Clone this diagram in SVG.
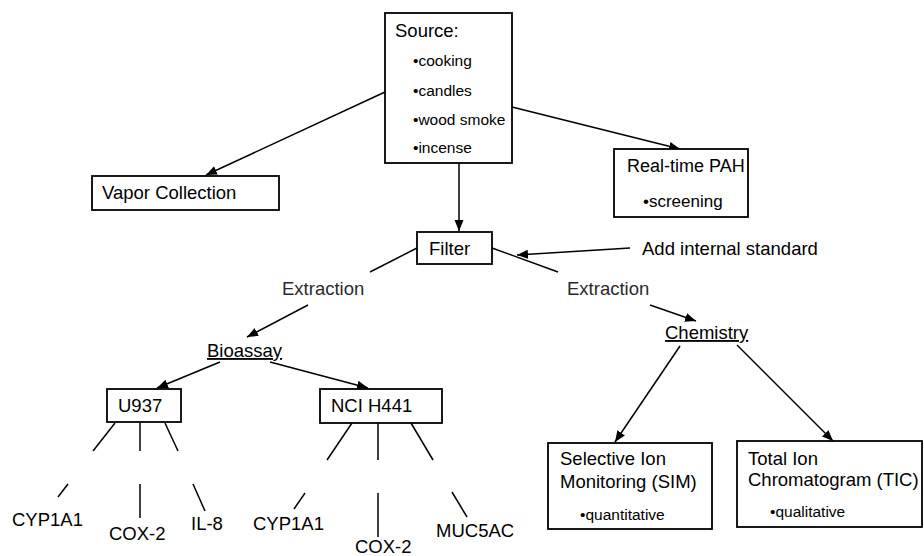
<svg xmlns="http://www.w3.org/2000/svg" width="924" height="556" viewBox="0 0 924 556">
<style>
text{font-family:"Liberation Sans",Arial,sans-serif;fill:#000}
.t{font-size:18.5px}
.s{font-size:15.5px}
.g{font-size:18.5px;fill:#2a2a2a}
.box{fill:#fff;stroke:#000;stroke-width:1.8}
.ln{stroke:#000;stroke-width:1.5;fill:none}
.ar{stroke:#000;stroke-width:1.5;fill:none;marker-end:url(#ah)}
</style>
<defs>
<marker id="ah" markerUnits="userSpaceOnUse" markerWidth="12" markerHeight="10" refX="11" refY="4.5" orient="auto">
<path d="M0,0 L11,4.5 L0,9 Z" fill="#000"/>
</marker>
</defs>
<rect width="924" height="556" fill="#fff"/>
<g id="connectors">
<line class="ar" x1="385" y1="92" x2="206" y2="175"/>
<line class="ar" x1="512" y1="107" x2="680" y2="149"/>
<line class="ar" x1="459" y1="163" x2="459" y2="231"/>
<line class="ar" x1="630" y1="248" x2="517" y2="255"/>
<line class="ln" x1="417" y1="248" x2="370" y2="272"/>
<line class="ln" x1="492" y1="248" x2="558" y2="272"/>
<line class="ar" x1="308" y1="305" x2="247" y2="337"/>
<line class="ar" x1="650" y1="305" x2="696" y2="321"/>
<line class="ar" x1="220" y1="362" x2="157" y2="388"/>
<line class="ar" x1="270" y1="362" x2="368" y2="388"/>
<line class="ar" x1="680" y1="346" x2="615" y2="442"/>
<line class="ar" x1="737" y1="345" x2="833" y2="441"/>
<line class="ln" x1="115" y1="423" x2="93" y2="451"/>
<line class="ln" x1="140" y1="423" x2="140" y2="451"/>
<line class="ln" x1="165" y1="423" x2="178" y2="451"/>
<line class="ln" x1="68" y1="484" x2="58" y2="497"/>
<line class="ln" x1="140" y1="484" x2="140" y2="518"/>
<line class="ln" x1="193" y1="484" x2="205" y2="511"/>
<line class="ln" x1="352" y1="423" x2="327" y2="460"/>
<line class="ln" x1="378" y1="423" x2="378" y2="460"/>
<line class="ln" x1="411" y1="423" x2="433" y2="460"/>
<line class="ln" x1="305" y1="493" x2="294" y2="509"/>
<line class="ln" x1="378" y1="493" x2="378" y2="537"/>
<line class="ln" x1="452" y1="492" x2="467" y2="517"/>
</g>
<g id="source">
<rect class="box" x="385" y="13" width="127" height="150"/>
<text class="t" x="395" y="37">Source:</text>
<text class="s" x="413" y="66">•cooking</text>
<text class="s" x="413" y="96">•candles</text>
<text class="s" x="413" y="125">•wood smoke</text>
<text class="s" x="413" y="153">•incense</text>
</g>
<g id="vapor">
<rect class="box" x="92" y="176" width="187" height="34"/>
<text class="t" x="102" y="199">Vapor Collection</text>
</g>
<g id="realtime">
<rect class="box" x="614" y="149" width="134" height="68"/>
<text class="t" x="627" y="172" style="font-size:18px">Real-time PAH</text>
<text class="s" x="643" y="207" style="font-size:17px">•screening</text>
</g>
<g id="filter">
<rect class="box" x="417" y="232" width="75" height="32"/>
<text class="t" x="429" y="255">Filter</text>
</g>
<g id="addstd">
<text class="t" x="642" y="255">Add internal standard</text>
</g>
<g id="extraction-left">
<text class="g" x="282" y="295">Extraction</text>
</g>
<g id="extraction-right">
<text class="g" x="567" y="295">Extraction</text>
</g>
<g id="bioassay">
<text class="t" x="207" y="357" text-decoration="underline">Bioassay</text>
</g>
<g id="chemistry">
<text class="t" x="665" y="339" text-decoration="underline">Chemistry</text>
</g>
<g id="u937">
<rect class="box" x="107" y="389" width="74" height="33"/>
<text class="t" x="118" y="412">U937</text>
</g>
<g id="nci">
<rect class="box" x="320" y="389" width="122" height="34"/>
<text class="t" x="331" y="412">NCI H441</text>
</g>
<g id="u937-genes">
<text class="t" x="12" y="526">CYP1A1</text>
<text class="t" x="109" y="540">COX-2</text>
<text class="t" x="191" y="530">IL-8</text>
</g>
<g id="nci-genes">
<text class="t" x="253" y="530">CYP1A1</text>
<text class="t" x="355" y="553">COX-2</text>
<text class="t" x="436" y="537">MUC5AC</text>
</g>
<g id="sim">
<rect class="box" x="548" y="443" width="164" height="86"/>
<text class="t" x="560" y="465">Selective Ion</text>
<text class="t" x="560" y="488">Monitoring (SIM)</text>
<text class="s" x="580" y="520">•quantitative</text>
</g>
<g id="tic">
<rect class="box" x="737" y="441" width="185" height="86"/>
<text class="t" x="748" y="465">Total Ion</text>
<text class="t" x="748" y="486">Chromatogram (TIC)</text>
<text class="s" x="770" y="517">•qualitative</text>
</g>
</svg>
